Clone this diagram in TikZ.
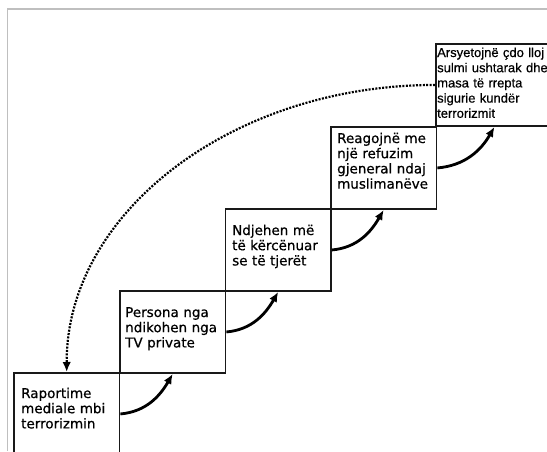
\documentclass[tikz,border=0pt]{standalone}
\usepackage{fontspec}
\setmainfont[FakeBold=0.6]{DejaVu Sans}
\newfontfamily\arialfont[FakeBold=0.5]{Liberation Sans}
\usetikzlibrary{arrows.meta}
\begin{document}
\begin{tikzpicture}[x=1pt,y=-1pt,
  stepbox/.style={draw=black!90, line width=1.9pt, minimum width=105.5pt, minimum height=82pt, anchor=north west, inner sep=0pt},
  steptext/.style={anchor=base west, inner sep=0pt, text width=140pt, align=left, font=\fontsize{13.5}{15.2}\selectfont},
  smalltext/.style={steptext, font=\arialfont\fontsize{13}{15.2}\selectfont},
  curved/.style={line width=2.8pt, -{Latex[length=10pt,width=8.5pt]}},
  backarrow/.style={line width=2.2pt, dash pattern=on 2pt off 1.4pt, -{Latex[length=10pt,width=8.5pt]}}]
\useasboundingbox (0,0) rectangle (547,451);
\fill[white] (0,0) rectangle (547,451);
% outer frame
\draw[gray!50, line width=1.5pt] (7.5,451) -- (7.5,9) -- (547,9);
% boxes
\node[stepbox] (b1) at (13,372) {};
\node[stepbox] (b2) at (119,290) {};
\node[stepbox] (b3) at (224.5,208) {};
\node[stepbox] (b4) at (330,126) {};
\node[stepbox, minimum width=117pt] (b5) at (435,43) {};
% texts
\node[steptext] (t1) at (21,398) {Raportime\\mediale mbi\\terrorizmin};
\node[steptext] (t2) at (125,317) {Persona nga\\ndikohen nga\\TV private};
\node[steptext] (t3) at (232,235) {Ndjehen më\\të kërcënuar\\se të tjerët};
\node[steptext] (t4) at (337,143) {Reagojnë me\\një refuzim\\gjeneral ndaj\\muslimanëve};
\node[smalltext] (t5) at (437,57) {Arsyetojnë çdo lloj\\sulmi ushtarak dhe\\masa të rrepta\\sigurie kundër\\terrorizmit};
% step arrows
\draw[curved] (b1.east) to[out=5,in=240] (b2.south);
\draw[curved] (b2.east) to[out=5,in=240] (b3.south);
\draw[curved] (b3.east) to[out=5,in=240] (b4.south);
\draw[curved] (b4.east) to[out=5,in=240] (b5.south);
% dotted return arrow
\draw[backarrow] (b5.west) .. controls (232,85) and (66,213) .. (b1.north);
\end{tikzpicture}
\end{document}
